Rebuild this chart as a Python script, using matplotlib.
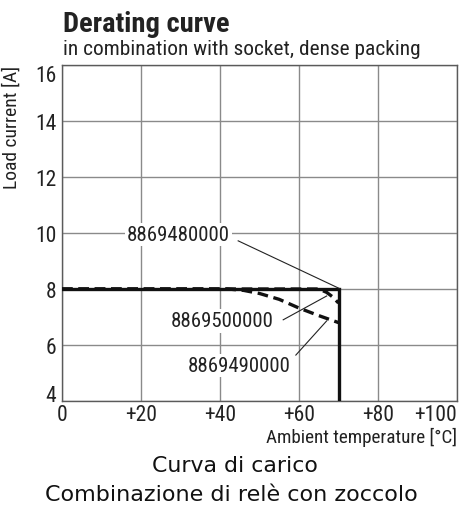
import matplotlib
matplotlib.use("Agg")
import matplotlib.pyplot as plt
from matplotlib import font_manager as fm

_names = {f.name for f in fm.fontManager.ttflist}
_pref = ['Roboto Condensed', 'Archivo Narrow', 'PT Sans Narrow', 'Fira Sans Condensed',
         'IBM Plex Sans Condensed', 'Encode Sans Condensed', 'Barlow Semi Condensed',
         'Liberation Sans Narrow']
NARROW = next((n for n in _pref if n in _names), 'DejaVu Sans')

# data
solid_x = [0, 70, 70]
solid_y = [8, 8, 4]
p500_x = [0, 65, 67, 68.5, 70]
p500_y = [8, 8, 7.88, 7.72, 7.5]
p490_x = [0, 42, 46, 50, 55, 60, 65, 70]
p490_y = [8, 8, 7.95, 7.84, 7.63, 7.32, 7.05, 6.8]
xticks = [0, 20, 40, 60, 80, 100]
xticklabels = ['0', '+20', '+40', '+60', '+80', '+100']
yticks = [4, 6, 8, 10, 12, 14, 16]

fig = plt.figure(figsize=(4.61, 5.10), dpi=100)
W, H = 461, 510
L, R, T, B = 62, 457, 66, 402
ax = fig.add_axes([L / W, 1 - B / H, (R - L) / W, (B - T) / H])
ax.set_xlim(0, 100)
ax.set_ylim(4, 16)
ax.set_xticks(xticks)
ax.set_yticks(yticks)
ax.grid(True, color='#8a8a8a', linewidth=1.0)
ax.set_axisbelow(True)
for s in ax.spines.values():
    s.set_color('#5a5a5a')
    s.set_linewidth(1.0)
ax.tick_params(length=0, pad=4)
ax.set_xticklabels(xticklabels, fontfamily=NARROW, fontsize=15.5, color='#222222')
ax.set_yticklabels([str(v) for v in yticks], fontfamily=NARROW, fontsize=15.5, color='#222222')
ax.get_xticklabels()[-1].set_horizontalalignment('right')
ax.get_yticklabels()[0].set_verticalalignment('baseline')
ax.get_yticklabels()[-1].set_verticalalignment('top')
ax.tick_params(axis='x', pad=2)

ax.plot(solid_x, solid_y, color='#111111', linewidth=2.4, solid_joinstyle='miter', zorder=5)
ax.plot(p500_x, p500_y, color='#111111', linewidth=2.4, linestyle=(0, (3.2, 1.7)), zorder=4)
ax.plot(p490_x, p490_y, color='#111111', linewidth=2.4, linestyle=(0, (3.2, 1.7)), zorder=4)

bbox = dict(facecolor='white', edgecolor='none', pad=1.5)
ax.text(29.4, 9.96, '8869480000', fontfamily=NARROW, fontsize=15, color='#222222',
        ha='center', va='center', bbox=bbox, zorder=6)
ax.text(40.5, 6.86, '8869500000', fontfamily=NARROW, fontsize=15, color='#222222',
        ha='center', va='center', bbox=bbox, zorder=6)
ax.text(44.8, 5.26, '8869490000', fontfamily=NARROW, fontsize=15, color='#222222',
        ha='center', va='center', bbox=bbox, zorder=6)
ax.plot([44.6, 70.2], [9.72, 8.02], color='#222222', linewidth=0.8, zorder=6)
ax.plot([56, 67], [6.9, 7.75], color='#222222', linewidth=0.8, zorder=6)
ax.plot([59.2, 67], [5.64, 6.86], color='#222222', linewidth=0.8, zorder=6)

fig.text(63 / W, 1 - 32 / H, 'Derating curve', fontfamily=NARROW, fontweight='bold',
         fontsize=20.5, color='#222222', ha='left', va='baseline')
fig.text(63 / W, 1 - 55 / H, 'in combination with socket, dense packing', fontfamily=NARROW,
         fontsize=15.4, color='#222222', ha='left', va='baseline')
fig.text(12 / W, 1 - T / H, 'Load current [A]', fontfamily=NARROW, fontsize=14,
         color='#222222', rotation=90, ha='center', va='top')
fig.text(R / W, 1 - 437 / H, 'Ambient temperature [°C]', fontfamily=NARROW, fontsize=13.8,
         color='#222222', ha='right', va='center')
fig.text(235 / W, 1 - 466 / H, 'Curva di carico', fontfamily='DejaVu Sans', fontsize=15.8,
         color='#111111', ha='center', va='center')
fig.text(231 / W, 1 - 495 / H, 'Combinazione di relè con zoccolo', fontfamily='DejaVu Sans',
         fontsize=16, color='#111111', ha='center', va='center')

fig.savefig('out.png', dpi=100)
